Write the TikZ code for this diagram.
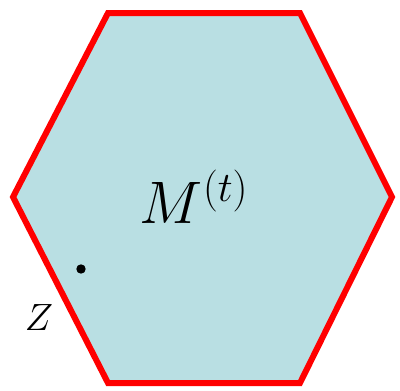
\RequirePackage{fix-cm}
\documentclass[tikz,border=0pt]{standalone}
\definecolor{hexfill}{RGB}{185,223,227}
\definecolor{hexred}{RGB}{255,0,0}
\begin{document}
\begin{tikzpicture}[x=1pt,y=-1pt,
  hexagon/.style={draw=hexred,fill=hexfill,line width=6pt,line join=miter},
  bigmath/.style={inner sep=0pt,font=\fontsize{60}{64}\selectfont},
  smallmath/.style={inner sep=0pt,font=\fontsize{38}{42}\selectfont}]
\useasboundingbox (0,0) rectangle (400,391);
\draw[hexagon] (108,13) -- (300,13) -- (392,197) -- (300,383) -- (108,383) -- (13,197) -- cycle;
\node[bigmath] (m) at (194,197) {$M^{(t)}$};
\fill (81,269) circle (4.7) coordinate (z0);
\node[smallmath] (z) at (39,318) {$Z$};
\end{tikzpicture}
\end{document}
